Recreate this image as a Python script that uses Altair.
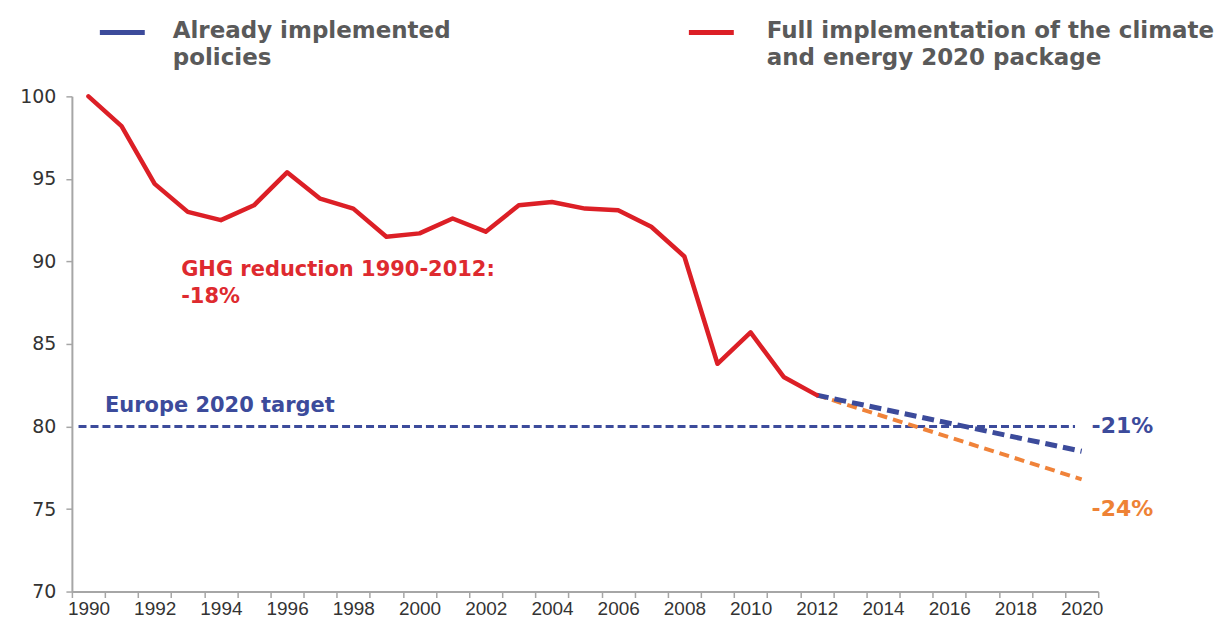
import altair as alt
import pandas as pd

# ---------------- data ----------------
years = list(range(1990, 2013))
ghg = [100.0, 98.2, 94.7, 93.0, 92.5, 93.4, 95.4, 93.8, 93.2, 91.5, 91.7, 92.6,
       91.8, 93.4, 93.6, 93.2, 93.1, 92.1, 90.3, 83.8, 85.7, 83.0, 81.9]

proj_years = [2012, 2020]
already_implemented = [81.9, 78.5]
full_implementation = [81.9, 76.8]

target_years = [1989.7, 2019.8]
target_values = [80, 80]

ann_text = ["GHG reduction 1990-2012:", "-18%", "Europe 2020 target", "-21%", "-24%"]
ann_x = [1992.8, 1992.8, 1990.5, 2020.3, 2020.3]
ann_y = [89.5, 87.85, 81.25, 80.0, 75.0]
ann_color = ["#DE2A2F", "#DE2A2F", "#3C4B9B", "#3C4B9B", "#EE8235"]
ann_size = [21, 21, 21, 22, 22]

legend_labels = [["Already implemented", "policies"],
                 ["Full implementation of the climate", "and energy 2020 package"]]

y_ticks = [70, 75, 80, 85, 90, 95, 100]
x_tick_edges = [1989.5 + i for i in range(32)]

RED = "#DC1F26"
BLUE = "#3C4B9B"
ORANGE = "#F0833A"
GRAY = "#5A5A5A"
AXIS_GRAY = "#A6A6A6"

hist = pd.DataFrame({"year": years, "value": ghg})
proj_a = pd.DataFrame({"year": proj_years, "value": already_implemented})
proj_f = pd.DataFrame({"year": proj_years, "value": full_implementation})
target = pd.DataFrame({"year": target_years, "value": target_values})
ann = pd.DataFrame({"x": ann_x, "y": ann_y, "text": ann_text, "color": ann_color,
                    "size": ann_size})
one = pd.DataFrame({"k": [0]})

# ---------------- scales / axes ----------------
x_scale = alt.Scale(domain=[1989.5, 2020.5], nice=False, zero=False)
y_scale = alt.Scale(domain=[70, 100], nice=False, zero=False)

x_axis = alt.Axis(
    values=x_tick_edges,
    labelExpr="((datum.value + 0.5) % 2 == 0 && datum.value < 2020) ? format(datum.value + 0.5, 'd') : ''",
    labelOffset=16.6,
    labelOverlap=False,
    labelFlush=False,
    labelFont="Liberation Sans",
    labelFontSize=19,
    labelColor="#333333",
    labelPadding=2,
    tickSize=6,
    tickColor=AXIS_GRAY,
    tickWidth=1.5,
    domainColor=AXIS_GRAY,
    domainWidth=2,
    grid=False,
    title=None,
)
y_axis = alt.Axis(
    values=y_ticks,
    labelFont="DejaVu Sans",
    labelFontSize=19,
    labelColor="#333333",
    labelPadding=10,
    tickSize=6,
    tickColor=AXIS_GRAY,
    tickWidth=1.5,
    domainColor=AXIS_GRAY,
    domainWidth=2,
    grid=False,
    title=None,
)


def X(field):
    return alt.X(field, type="quantitative", scale=x_scale, axis=x_axis, title=None)


def Y(field):
    return alt.Y(field, type="quantitative", scale=y_scale, axis=y_axis, title=None)


# ---------------- layers ----------------
target_line = alt.Chart(target).mark_line(
    color=BLUE, strokeWidth=3, strokeDash=[8, 4]
).encode(x=X("year"), y=Y("value"))

full_line = alt.Chart(proj_f).mark_line(
    color=ORANGE, strokeWidth=4, strokeDash=[10, 6]
).encode(x=X("year"), y=Y("value"))

already_line = alt.Chart(proj_a).mark_line(
    color=BLUE, strokeWidth=5, strokeDash=[12, 6]
).encode(x=X("year"), y=Y("value"))

hist_line = alt.Chart(hist).mark_line(
    color=RED, strokeWidth=4.5, strokeJoin="round", strokeCap="round"
).encode(x=X("year"), y=Y("value"))

ann_layer = alt.Chart(ann).mark_text(
    align="left", baseline="middle", font="DejaVu Sans", fontWeight="bold"
).encode(
    x=X("x"), y=Y("y"), text="text:N",
    color=alt.Color("color:N", scale=None),
    size=alt.Size("size:Q", scale=None),
)

leg_blue_rule = alt.Chart(one).mark_rule(color=BLUE, strokeWidth=5).encode(
    x=alt.value(28), x2=alt.value(73), y=alt.value(-64)
)
leg_red_rule = alt.Chart(one).mark_rule(color=RED, strokeWidth=5).encode(
    x=alt.value(618), x2=alt.value(663), y=alt.value(-64)
)
leg_text_style = dict(align="left", baseline="alphabetic", font="DejaVu Sans",
                      fontWeight="bold", fontSize=23, color=GRAY, lineHeight=27)
leg_blue_text = alt.Chart(one).mark_text(**leg_text_style).encode(
    x=alt.value(101), y=alt.value(-58), text=alt.value(legend_labels[0])
)
leg_red_text = alt.Chart(one).mark_text(**leg_text_style).encode(
    x=alt.value(696), y=alt.value(-58), text=alt.value(legend_labels[1])
)

chart = alt.layer(
    target_line, full_line, already_line, hist_line, ann_layer,
    leg_blue_rule, leg_red_rule, leg_blue_text, leg_red_text,
).properties(
    width=1028,
    height=496,
    autosize=alt.AutoSizeParams(type="none"),
    padding={"left": 64, "top": 88, "right": 120, "bottom": 29},
    background="white",
).configure_view(stroke=None)

chart.save("out.html", embed_options={"renderer": "svg", "actions": False})
